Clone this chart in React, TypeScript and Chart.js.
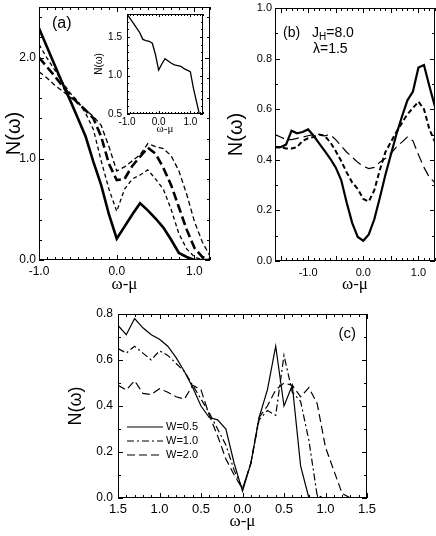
import React, { useEffect, useRef } from "react";
import { Chart, registerables } from "chart.js";
Chart.register(...registerables);

// ---------- Panel (a) ----------
const xA = [-1.0, -0.9, -0.8, -0.7, -0.6, -0.5, -0.4, -0.3, -0.2, -0.1, 0.0, 0.1, 0.2, 0.3, 0.4, 0.5, 0.6, 0.7, 0.8, 0.9, 1.0, 1.1, 1.2];
const solidA = [2.29, 2.11, 1.93, 1.75, 1.58, 1.40, 1.22, 0.97, 0.74, 0.45, 0.21, 0.33, 0.45, 0.56, 0.49, 0.41, 0.32, 0.20, 0.07, 0.03, 0.0, 0.0, 0.0];
const dashA1 = [2.13, 2.00, 1.88, 1.76, 1.65, 1.57, 1.45, 1.29, 0.98, 0.70, 0.48, 0.70, 0.80, 0.84, 0.89, 0.80, 0.70, 0.50, 0.26, 0.11, 0.03, 0.0, 0.0];
const thickA = [2.00, 1.91, 1.82, 1.72, 1.63, 1.55, 1.48, 1.40, 1.22, 0.95, 0.79, 0.80, 0.93, 1.02, 1.11, 1.05, 0.91, 0.74, 0.52, 0.30, 0.12, 0.03, 0.0];
const dashA2 = [1.86, 1.80, 1.73, 1.67, 1.61, 1.55, 1.48, 1.42, 1.33, 1.12, 0.88, 0.92, 0.98, 1.04, 1.15, 1.12, 1.10, 1.03, 0.88, 0.65, 0.38, 0.18, 0.04];
const xTicksA = [-1, 0, 1];
const yTicksA = [0, 1, 2];

// ---------- Inset of (a) ----------
const xIn = [-1.0, -0.9, -0.8, -0.7, -0.6, -0.5, -0.4, -0.3, -0.2, -0.1, 0.0, 0.1, 0.2, 0.3, 0.4, 0.5, 0.6, 0.7, 0.8, 0.9, 1.0, 1.1, 1.2, 1.3];
const yIn = [1.80, 1.74, 1.68, 1.62, 1.56, 1.47, 1.455, 1.445, 1.42, 1.27, 1.07, 1.15, 1.22, 1.19, 1.16, 1.14, 1.13, 1.12, 1.09, 1.07, 1.05, 0.83, 0.65, 0.47];
const xTicksIn = [-1, 0, 1];
const yTicksIn = [0.5, 1.0, 1.5];

// ---------- Panel (b) ----------
const xB = [-1.6, -1.5, -1.4, -1.3, -1.2, -1.1, -1.0, -0.9, -0.8, -0.7, -0.6, -0.5, -0.4, -0.3, -0.2, -0.1, 0.0, 0.1, 0.2, 0.3, 0.4, 0.5, 0.6, 0.7, 0.8, 0.9, 1.0, 1.1, 1.2, 1.3];
const solidB = [0.45, 0.45, 0.46, 0.515, 0.505, 0.51, 0.52, 0.495, 0.465, 0.435, 0.405, 0.37, 0.32, 0.23, 0.15, 0.095, 0.08, 0.105, 0.165, 0.25, 0.34, 0.42, 0.50, 0.57, 0.635, 0.67, 0.765, 0.775, 0.69, 0.61];
const dashB = [0.45, 0.45, 0.445, 0.445, 0.45, 0.475, 0.485, 0.49, 0.50, 0.495, 0.47, 0.435, 0.395, 0.35, 0.31, 0.285, 0.245, 0.235, 0.28, 0.36, 0.43, 0.47, 0.51, 0.545, 0.58, 0.605, 0.63, 0.60, 0.52, 0.47];
const longB = [0.50, 0.49, 0.48, 0.48, 0.485, 0.49, 0.495, 0.50, 0.50, 0.495, 0.50, 0.48, 0.455, 0.43, 0.41, 0.39, 0.375, 0.365, 0.37, 0.39, 0.405, 0.425, 0.45, 0.47, 0.49, 0.475, 0.42, 0.37, 0.33, 0.31];
const xTicksB = [-1, 0, 1];
const yTicksB = [0, 0.2, 0.4, 0.6, 0.8, 1.0];

// ---------- Panel (c) ----------
const xC = [-1.5, -1.4, -1.3, -1.2, -1.1, -1.0, -0.9, -0.8, -0.7, -0.6, -0.5, -0.4, -0.3, -0.2, -0.1, 0.0, 0.1, 0.2, 0.3, 0.4, 0.5, 0.6, 0.7, 0.8, 0.9, 1.0, 1.1, 1.2, 1.3, 1.4, 1.5];
const w05 = [0.75, 0.71, 0.78, 0.74, 0.71, 0.69, 0.66, 0.61, 0.55, 0.48, 0.40, 0.35, 0.34, 0.30, 0.15, 0.03, 0.15, 0.35, 0.47, 0.66, 0.40, 0.49, 0.14, 0.0, 0.0, 0.0, 0.0, 0.0, 0.0, 0.0, 0.0];
const w10 = [0.65, 0.63, 0.66, 0.63, 0.60, 0.64, 0.62, 0.585, 0.55, 0.49, 0.43, 0.37, 0.30, 0.23, 0.12, 0.04, 0.15, 0.34, 0.38, 0.36, 0.62, 0.46, 0.42, 0.25, 0.01, 0.0, 0.0, 0.0, 0.0, 0.0, 0.0];
const w20 = [0.49, 0.47, 0.51, 0.455, 0.45, 0.475, 0.46, 0.44, 0.43, 0.49, 0.47, 0.36, 0.27, 0.17, 0.10, 0.04, 0.15, 0.35, 0.40, 0.47, 0.50, 0.49, 0.44, 0.48, 0.41, 0.22, 0.12, 0.02, 0.0, 0.0, 0.0];
const seriesC = ["W=0.5", "W=1.0", "W=2.0"];
const xTicksC = [-1.5, -1.0, -0.5, 0.0, 0.5, 1.0, 1.5];
const xLabelsC = ["1.5", "1.0", "0.5", "0.0", "0.5", "1.0", "1.5"];
const yTicksC = [0, 0.2, 0.4, 0.6, 0.8];

const SANS = '"Liberation Sans", Arial, Helvetica, sans-serif';
const SERIF = '"Liberation Serif", "Times New Roman", serif';

const pts = (xs: number[], ys: number[]) => xs.map((x, i) => ({ x, y: ys[i] }));

function line(data: any, width: number, dash: number[], label = "") {
  return {
    label,
    data,
    borderColor: "#000",
    backgroundColor: "#000",
    borderWidth: width,
    borderDash: dash,
    borderCapStyle: "butt",
    pointRadius: 0,
    fill: false,
    tension: 0,
  };
}

function axis(o: any) {
  const horizontal = o.horizontal;
  return {
    type: "linear",
    min: o.min,
    max: o.max,
    position: horizontal ? "bottom" : "left",
    grid: { display: false, drawTicks: false },
    border: { display: false },
    afterBuildTicks: (s: any) => {
      s.ticks = o.ticks.map((v: number) => ({ value: v }));
    },
    afterFit: (s: any) => {
      if (horizontal) s.height = o.size;
      else s.width = o.size;
      s.paddingLeft = 0;
      s.paddingRight = 0;
      s.paddingTop = 0;
      s.paddingBottom = 0;
    },
    ticks: {
      color: "#000",
      font: { family: SANS, size: o.font },
      padding: o.pad,
      maxRotation: 0,
      minRotation: 0,
      autoSkip: false,
      callback: (v: any, i: number) => (o.labels ? o.labels[i] : Number(v).toFixed(1)),
    },
    title: {
      display: true,
      text: o.title,
      color: "#000",
      font: o.titleFont,
      padding: horizontal ? { top: 0, bottom: o.titlePad } : { top: o.titlePad, bottom: 0 },
    },
  };
}

function makeFrame(xMinor: number, xMajor: number, yMinor: number, yMajor: number, majLen = 5, minLen = 3) {
  return {
    id: "frame",
    afterDatasetsDraw(chart: any) {
      const { ctx, chartArea: ca, scales } = chart;
      ctx.save();
      ctx.strokeStyle = "#000";
      ctx.lineWidth = 1;
      ctx.setLineDash([]);
      ctx.beginPath();
      const marks = (sc: any, step: number, big: number, horiz: boolean) => {
        const n0 = Math.ceil(sc.min / step - 1e-6);
        const n1 = Math.floor(sc.max / step + 1e-6);
        for (let i = n0; i <= n1; i++) {
          const v = i * step;
          const r = v / big;
          const isMajor = Math.abs(r - Math.round(r)) < 1e-6;
          const len = isMajor ? majLen : minLen;
          const p = Math.round(sc.getPixelForValue(v)) + 0.5;
          if (horiz) {
            ctx.moveTo(p, ca.bottom);
            ctx.lineTo(p, ca.bottom - len);
            ctx.moveTo(p, ca.top);
            ctx.lineTo(p, ca.top + len);
          } else {
            ctx.moveTo(ca.left, p);
            ctx.lineTo(ca.left + len, p);
            ctx.moveTo(ca.right, p);
            ctx.lineTo(ca.right - len, p);
          }
        }
      };
      marks(scales.x, xMinor, xMajor, true);
      marks(scales.y, yMinor, yMajor, false);
      ctx.stroke();
      ctx.strokeRect(
        Math.round(ca.left) + 0.5,
        Math.round(ca.top) + 0.5,
        Math.round(ca.right - ca.left) - 1,
        Math.round(ca.bottom - ca.top) - 1
      );
      ctx.restore();
    },
  };
}

function makeText(fn: (ctx: CanvasRenderingContext2D, ca: any, chart: any) => void) {
  return {
    id: "annot",
    afterDraw(chart: any) {
      const ctx = chart.ctx;
      ctx.save();
      ctx.fillStyle = "#000";
      ctx.strokeStyle = "#000";
      fn(ctx, chart.chartArea, chart);
      ctx.restore();
    },
  };
}

function baseOptions(padding: any, x: any, y: any) {
  return {
    animation: false,
    responsive: false,
    maintainAspectRatio: false,
    events: [],
    layout: { padding },
    plugins: { legend: { display: false }, tooltip: { enabled: false } },
    scales: { x, y },
  };
}

export default function App() {
  const refA = useRef<HTMLCanvasElement>(null);
  const refIn = useRef<HTMLCanvasElement>(null);
  const refB = useRef<HTMLCanvasElement>(null);
  const refC = useRef<HTMLCanvasElement>(null);

  useEffect(() => {
    const charts: Chart[] = [];

    // Panel (a)
    charts.push(
      new Chart(refA.current as HTMLCanvasElement, {
        type: "line",
        data: {
          datasets: [
            line(pts(xA, solidA), 2.6, []),
            line(pts(xA, dashA1), 1.3, [4, 3]),
            line(pts(xA, thickA), 2.6, [9, 4]),
            line(pts(xA, dashA2), 1.3, [5, 3]),
          ],
        } as any,
        options: baseOptions(
          { left: 0, top: 7, right: 2, bottom: 0 },
          axis({ horizontal: true, min: -1.0, max: 1.2, ticks: xTicksA, size: 36, font: 12, pad: 4, title: "ω-μ", titleFont: { family: SERIF, size: 17 }, titlePad: 1 }),
          axis({ horizontal: false, min: 0, max: 2.5, ticks: yTicksA, size: 39, font: 12, pad: 3, title: "N(ω)", titleFont: { family: SANS, size: 20 }, titlePad: 2 })
        ) as any,
        plugins: [
          makeFrame(0.1, 1, 0.2, 1),
          makeText((ctx, ca) => {
            ctx.font = `16px ${SANS}`;
            ctx.textAlign = "left";
            ctx.textBaseline = "middle";
            ctx.fillText("(a)", ca.left + 13, ca.top + 17);
          }),
        ],
      })
    );

    // Inset
    charts.push(
      new Chart(refIn.current as HTMLCanvasElement, {
        type: "line",
        data: { datasets: [line(pts(xIn, yIn), 1.3, [])] } as any,
        options: baseOptions(
          { left: 0, top: 6, right: 3, bottom: 0 },
          axis({ horizontal: true, min: -1.0, max: 1.4, ticks: xTicksIn, size: 24, font: 10, pad: 2, title: "ω-μ", titleFont: { family: SERIF, size: 11 }, titlePad: 2 }),
          axis({ horizontal: false, min: 0.5, max: 1.8, ticks: yTicksIn, size: 39, font: 10, pad: 5, title: "N(ω)", titleFont: { family: SANS, size: 10 }, titlePad: 5 })
        ) as any,
        plugins: [makeFrame(0.1, 1, 0.1, 0.5, 3, 2)],
      })
    );

    // Panel (b)
    charts.push(
      new Chart(refB.current as HTMLCanvasElement, {
        type: "line",
        data: {
          datasets: [
            line(pts(xB, solidB), 2.2, []),
            line(pts(xB, dashB), 2.0, [5, 3]),
            line(pts(xB, longB), 1.2, [10, 5]),
          ],
        } as any,
        options: baseOptions(
          { left: 0, top: 8, right: 1, bottom: 0 },
          axis({ horizontal: true, min: -1.6, max: 1.3, ticks: xTicksB, size: 35, font: 11, pad: 5, title: "ω-μ", titleFont: { family: SERIF, size: 17 }, titlePad: 1 }),
          axis({ horizontal: false, min: 0, max: 1.0, ticks: yTicksB, size: 61, font: 11, pad: 3, title: "N(ω)", titleFont: { family: SANS, size: 20 }, titlePad: 10 })
        ) as any,
        plugins: [
          makeFrame(0.1, 0.5, 0.1, 0.2),
          makeText((ctx, ca) => {
            ctx.textAlign = "left";
            ctx.textBaseline = "middle";
            ctx.font = `14px ${SANS}`;
            ctx.fillText("(b)", ca.left + 8, ca.top + 25);
            let x = ca.left + 37;
            const y1 = ca.top + 25;
            ctx.fillText("J", x, y1);
            x += ctx.measureText("J").width;
            ctx.font = `10px ${SANS}`;
            ctx.fillText("H", x, y1 + 4);
            x += ctx.measureText("H").width;
            ctx.font = `14px ${SANS}`;
            ctx.fillText("=8.0", x, y1);
            ctx.fillText("λ=1.5", ca.left + 38, ca.top + 41);
          }),
        ],
      })
    );

    // Panel (c)
    charts.push(
      new Chart(refC.current as HTMLCanvasElement, {
        type: "line",
        data: {
          datasets: [
            line(pts(xC, w05), 1.2, [], seriesC[0]),
            line(pts(xC, w10), 1.2, [7, 3, 2, 3], seriesC[1]),
            line(pts(xC, w20), 1.2, [8, 4], seriesC[2]),
          ],
        } as any,
        options: baseOptions(
          { left: 0, top: 16, right: 13, bottom: 0 },
          axis({ horizontal: true, min: -1.5, max: 1.5, ticks: xTicksC, labels: xLabelsC, size: 38, font: 13, pad: 4, title: "ω-μ", titleFont: { family: SERIF, size: 17 }, titlePad: 4 }),
          axis({ horizontal: false, min: 0, max: 0.8, ticks: yTicksC, size: 58, font: 12, pad: 5, title: "N(ω)", titleFont: { family: SANS, size: 18 }, titlePad: 5 })
        ) as any,
        plugins: [
          makeFrame(0.1, 0.5, 0.1, 0.2),
          makeText((ctx, ca, chart) => {
            ctx.font = `15px ${SANS}`;
            ctx.textAlign = "right";
            ctx.textBaseline = "middle";
            ctx.fillText("(c)", ca.right - 11, ca.top + 20);
            const ds = chart.data.datasets;
            const offs = [71, 57, 43];
            ds.forEach((d: any, i: number) => {
              const y = ca.bottom - offs[i];
              ctx.lineWidth = d.borderWidth;
              ctx.setLineDash(d.borderDash || []);
              ctx.beginPath();
              ctx.moveTo(ca.left + 9, y);
              ctx.lineTo(ca.left + 45, y);
              ctx.stroke();
              ctx.setLineDash([]);
              ctx.font = `11px ${SANS}`;
              ctx.textAlign = "left";
              ctx.fillText(d.label, ca.left + 48, y);
            });
          }),
        ],
      })
    );

    return () => charts.forEach((c) => c.destroy());
  }, []);

  return (
    <div style={{ position: "absolute", left: 0, top: 0, width: 436, height: 536, background: "#fff", overflow: "hidden" }}>
      <canvas ref={refA} width={212} height={296} style={{ position: "absolute", left: 0, top: 0, width: 212, height: 296 }} />
      <canvas ref={refB} width={222} height={296} style={{ position: "absolute", left: 214, top: 0, width: 222, height: 296 }} />
      <canvas ref={refC} width={320} height={238} style={{ position: "absolute", left: 60, top: 298, width: 320, height: 238 }} />
      <canvas ref={refIn} width={118} height={130} style={{ position: "absolute", left: 88, top: 8, width: 118, height: 130 }} />
    </div>
  );
}
